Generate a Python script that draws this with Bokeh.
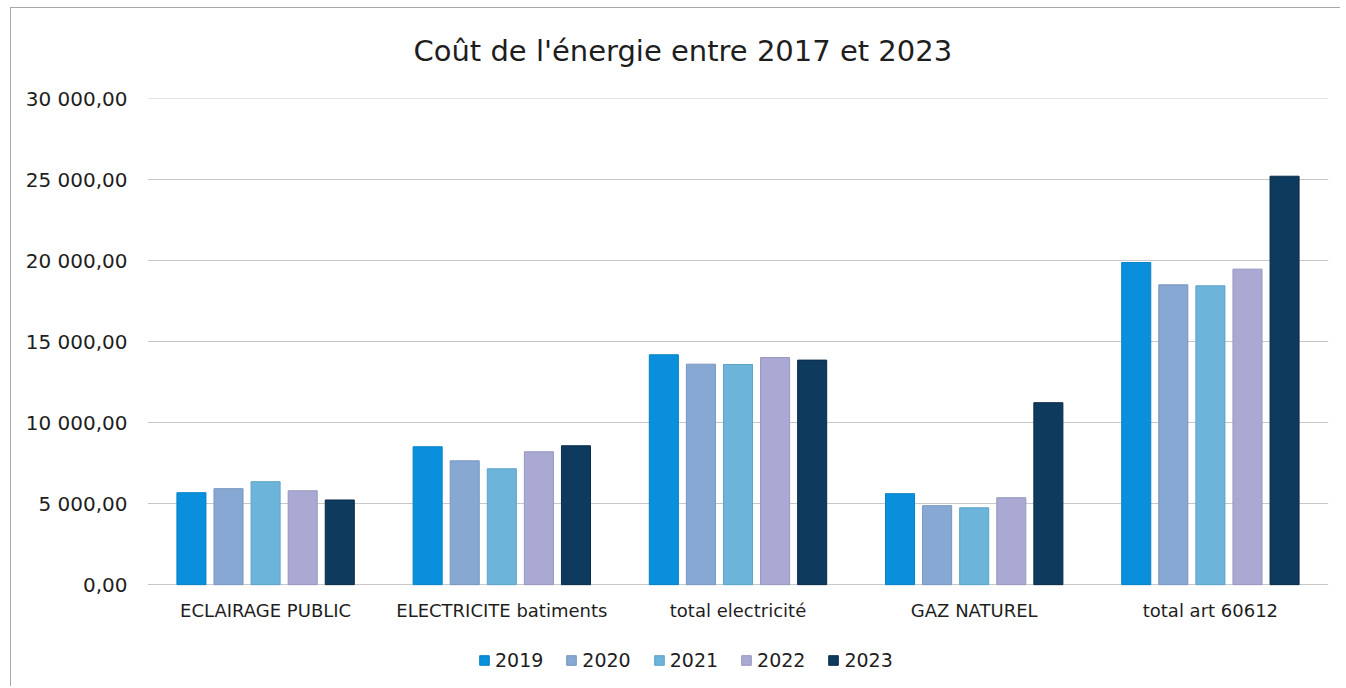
from bokeh.plotting import figure
from bokeh.models import ColumnDataSource, FactorRange, Range1d, Legend, LegendItem, Title, FixedTicker
from bokeh.core.properties import value
from bokeh.transform import dodge
from bokeh.embed import file_html
from bokeh.resources import INLINE

categories = ["ECLAIRAGE PUBLIC", "ELECTRICITE batiments", "total electricité", "GAZ NATUREL", "total art 60612"]
years = ["2019", "2020", "2021", "2022", "2023"]
v2019 = [5680, 8520, 14200, 5620, 19900]
v2020 = [5930, 7650, 13620, 4880, 18520]
v2021 = [6360, 7160, 13600, 4750, 18460]
v2022 = [5800, 8210, 14030, 5370, 19490]
v2023 = [5230, 8580, 13870, 11240, 25230]
colors = ["#0a8fdc", "#86a8d2", "#6cb4d9", "#a9a9d3", "#0e3a5e"]
edges = ["#0880c8", "#7896c0", "#5ea3c8", "#9797c0", "#0a2c48"]
ytick_labels = {0: "0,00", 5000: "5 000,00", 10000: "10 000,00", 15000: "15 000,00",
                20000: "20 000,00", 25000: "25 000,00", 30000: "30 000,00"}
title_text = "Coût de l'énergie entre 2017 et 2023"

FONT = "DejaVu Sans"
TXT = "#1e1e1e"

src = ColumnDataSource(dict(cat=categories, v2019=v2019, v2020=v2020, v2021=v2021,
                            v2022=v2022, v2023=v2023))

# frame extends below the zero line to hold the category labels and legend
p = figure(x_range=FactorRange(*categories), y_range=Range1d(-6290, 30030),
           frame_width=1181, frame_height=588,
           output_backend="svg", toolbar_location=None,
           min_border_left=147, min_border_right=12, min_border_top=98, min_border_bottom=0)
p.styles = {
    "background-image": "linear-gradient(#a8a8a8,#a8a8a8), linear-gradient(#a8a8a8,#a8a8a8)",
    "background-size": "1px 100%, 100% 1px",
    "background-position": "10px 7px, 10px 7px",
    "background-repeat": "no-repeat",
}
p.outline_line_color = None
p.background_fill_color = "white"
p.border_fill_alpha = 0

title = Title(text=title_text, align="left", offset=266, standoff=62,
              text_font=FONT, text_font_size="29px", text_font_style="normal", text_color=TXT)
p.add_layout(title, "above")

pitch = 0.157
width = 0.123
items = []
for i, (yr, col, ec) in enumerate(zip(years, colors, edges)):
    r = p.vbar(x=dodge("cat", (i - 2) * pitch, range=p.x_range), top="v" + yr, width=width,
               source=src, fill_color=col, line_color=ec, line_width=1)
    items.append(LegendItem(label=yr, renderers=[r]))

# category labels under the zero line
p.text(x="cat", y=0, text="cat", source=src, y_offset=26,
       text_align="center", text_baseline="middle",
       text_font=value(FONT), text_font_size="18px", text_color=TXT)

p.xaxis.visible = False

p.yaxis.ticker = FixedTicker(ticks=list(ytick_labels.keys()))
p.yaxis.major_label_overrides = ytick_labels
p.yaxis.axis_line_color = None
p.yaxis.major_tick_line_color = None
p.yaxis.minor_tick_line_color = None
p.yaxis.major_label_standoff = 14
p.yaxis.major_label_text_font = FONT
p.yaxis.major_label_text_font_size = "20px"
p.yaxis.major_label_text_color = TXT

p.xgrid.grid_line_color = None
p.ygrid.grid_line_color = "#c8c8c8"
p.ygrid.grid_line_width = 1

legend = Legend(items=items, orientation="horizontal", location=(331, 15),
                label_text_font=FONT, label_text_font_size="19px", label_text_color=TXT,
                glyph_width=12, glyph_height=12, spacing=22, label_standoff=5,
                border_line_color=None, background_fill_alpha=0, margin=0, padding=0)
p.add_layout(legend)

open("out.html", "w").write(file_html(p, INLINE))
